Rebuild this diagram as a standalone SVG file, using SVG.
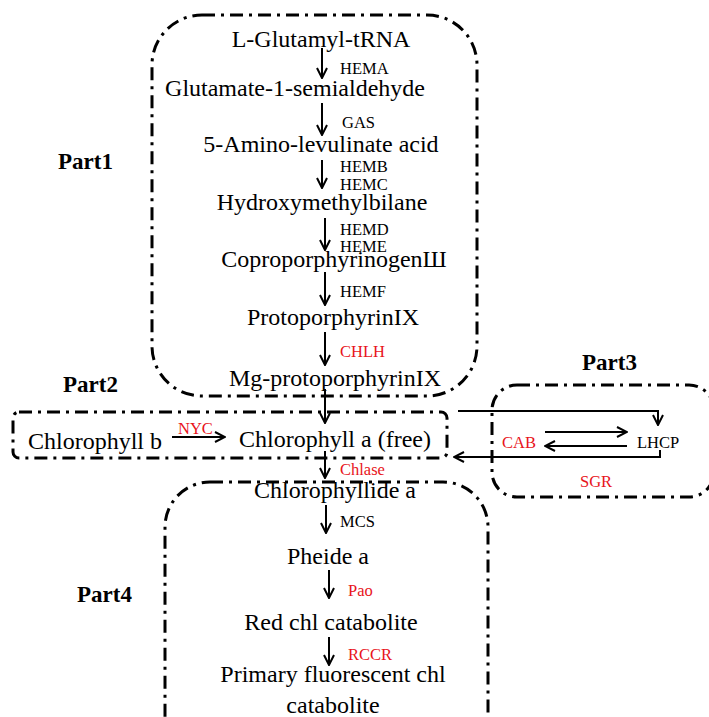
<svg xmlns="http://www.w3.org/2000/svg" width="709" height="717" viewBox="0 0 709 717" font-family="'Liberation Serif', 'Times New Roman', Times, serif">
<defs>
<marker id="ah" viewBox="0 0 12 12" refX="11" refY="6" markerWidth="12" markerHeight="12" markerUnits="userSpaceOnUse" orient="auto">
<path d="M1,1 L11,6 L1,11" fill="none" stroke="#000" stroke-width="2"/>
</marker>
</defs>
<style>
.box{fill:none;stroke:#000;stroke-width:3;stroke-dasharray:13 6 3 6}
.t{font-size:24px;fill:#000;text-anchor:middle}
.e{font-size:16.5px;fill:#000}
.r{fill:#e8141b}
.p{font-size:23px;font-weight:bold;fill:#000}
.a{fill:none;stroke:#000;stroke-width:2;marker-end:url(#ah)}
</style>
<g id="part1"><rect class="box" x="152" y="15" width="325" height="381" rx="50"/><text class="p" x="58" y="169">Part1</text></g>
<g id="part2"><rect class="box" x="13" y="412" width="434" height="46" rx="6"/><text class="p" x="63" y="392">Part2</text></g>
<g id="part3"><rect class="box" x="492" y="385" width="222" height="112" rx="25"/><text class="p" x="582" y="370">Part3</text></g>
<g id="part4"><rect class="box" x="165" y="482" width="323" height="280" rx="45"/><text class="p" x="77" y="602">Part4</text></g>
<g id="n1"><text class="t" x="321" y="47">L-Glutamyl-tRNA</text></g>
<g id="n2"><text class="t" x="295" y="96">Glutamate-1-semialdehyde</text></g>
<g id="n3"><text class="t" x="321" y="152">5-Amino-levulinate acid</text></g>
<g id="n4"><text class="t" x="322" y="210">Hydroxymethylbilane</text></g>
<g id="n5"><text class="t" x="334" y="267">CoproporphyrinogenШ</text></g>
<g id="n6"><text class="t" x="333" y="325">ProtoporphyrinIX</text></g>
<g id="n7"><text class="t" x="335" y="386">Mg-protoporphyrinIX</text></g>
<g id="n8"><text class="t" x="95" y="449">Chlorophyll b</text></g>
<g id="n9"><text class="t" x="335" y="447">Chlorophyll a (free)</text></g>
<g id="n10"><text class="t" x="335" y="498">Chlorophyllide a</text></g>
<g id="n11"><text class="t" x="328" y="564">Pheide a</text></g>
<g id="n12"><text class="t" x="331" y="630">Red chl catabolite</text></g>
<g id="n13"><text class="t" x="333" y="682">Primary fluorescent chl</text><text class="t" x="333" y="713">catabolite</text></g>
<g id="n14"><text class="e" x="637" y="448">LHCP</text></g>
<g id="labels">
<text class="e" x="340" y="74">HEMA</text>
<text class="e" x="342" y="128">GAS</text>
<text class="e" x="340" y="172">HEMB</text>
<text class="e" x="340" y="190">HEMC</text>
<text class="e" x="340" y="235">HEMD</text>
<text class="e" x="340" y="252">HEME</text>
<text class="e" x="340" y="297">HEMF</text>
<text class="e r" x="340" y="357">CHLH</text>
<text class="e r" x="178" y="434">NYC</text>
<text class="e r" x="340" y="475">Chlase</text>
<text class="e" x="340" y="527">MCS</text>
<text class="e r" x="348" y="596">Pao</text>
<text class="e r" x="348" y="660">RCCR</text>
<text class="e r" x="502" y="448">CAB</text>
<text class="e r" x="580" y="487">SGR</text>
</g>
<g id="connectors">
<line class="a" x1="322" y1="48" x2="322" y2="78"/>
<line class="a" x1="322" y1="103" x2="322" y2="135"/>
<line class="a" x1="322" y1="160" x2="322" y2="188"/>
<line class="a" x1="325" y1="218" x2="325" y2="250"/>
<line class="a" x1="325" y1="272" x2="325" y2="305"/>
<line class="a" x1="325" y1="332" x2="325" y2="365"/>
<line class="a" x1="325" y1="389" x2="325" y2="423"/>
<line class="a" x1="172" y1="437" x2="225" y2="437"/>
<line class="a" x1="325" y1="451" x2="325" y2="478"/>
<line class="a" x1="326" y1="505" x2="326" y2="533"/>
<line class="a" x1="329" y1="570" x2="329" y2="598"/>
<line class="a" x1="329" y1="637" x2="329" y2="665"/>
<polyline class="a" points="458,411 658,411 658,425"/>
<polyline class="a" points="660,450 660,457 454,457"/>
<line class="a" x1="545" y1="432" x2="627" y2="432"/>
<line class="a" x1="627" y1="446" x2="545" y2="446"/>
</g>
</svg>
